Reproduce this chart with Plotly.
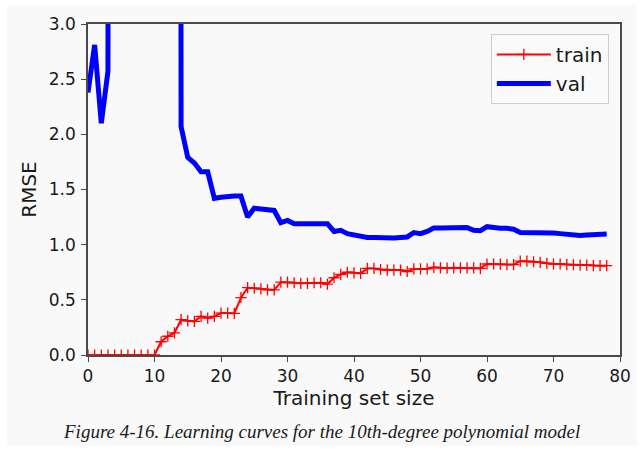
import plotly.graph_objects as go

# Training set sizes (index of each learning-curve step)
sizes = list(range(79))

# Root mean squared error on the training subsets
train_rmse = [
    0, 0, 0, 0, 0, 0, 0, 0, 0, 0,
    0, 0.12, 0.17, 0.20, 0.32, 0.31, 0.305, 0.35, 0.335, 0.35,
    0.38, 0.38, 0.377, 0.52, 0.61, 0.605, 0.60, 0.59, 0.59, 0.66,
    0.66, 0.655, 0.65, 0.65, 0.655, 0.655, 0.643, 0.70, 0.73, 0.75,
    0.745, 0.74, 0.785, 0.785, 0.775, 0.77, 0.77, 0.77, 0.757, 0.78,
    0.78, 0.78, 0.795, 0.79, 0.787, 0.79, 0.79, 0.79, 0.79, 0.785,
    0.825, 0.825, 0.823, 0.82, 0.82, 0.85, 0.85, 0.845, 0.84, 0.83,
    0.825, 0.825, 0.82, 0.818, 0.815, 0.815, 0.81, 0.81, 0.81,
]

# Root mean squared error on the validation set
val_rmse = [
    2.38, 2.81, 2.10, 2.57, 45.0, 120.0, 310.0, 80.0, 150.0, 60.0,
    95.0, 40.0, 25.0, 60.0, 2.07, 1.79, 1.74, 1.66, 1.66, 1.42,
    1.43, 1.44, 1.44, 1.44, 1.25, 1.33, 1.32, 1.32, 1.31, 1.20,
    1.22, 1.19, 1.19, 1.19, 1.18, 1.19, 1.19, 1.12, 1.13, 1.10,
    1.088, 1.07, 1.065, 1.065, 1.06, 1.055, 1.06, 1.065, 1.07, 1.11,
    1.10, 1.12, 1.15, 1.15, 1.15, 1.155, 1.155, 1.155, 1.13, 1.127,
    1.163, 1.15, 1.148, 1.148, 1.14, 1.11, 1.11, 1.115, 1.11, 1.11,
    1.106, 1.10, 1.094, 1.09, 1.083, 1.088, 1.088, 1.088, 1.097,
]

x_ticks = [0, 10, 20, 30, 40, 50, 60, 70, 80]
y_ticks = [0.0, 0.5, 1.0, 1.5, 2.0, 2.5, 3.0]

caption = "Figure 4-16. Learning curves for the 10th-degree polynomial model"

PANEL = "#f9f9f9"
SPINE = "#4a4a4a"
TEXT = "#1a1a1a"
SANS = "DejaVu Sans"

fig = go.Figure()
fig.add_trace(go.Scatter(
    x=sizes, y=train_rmse, mode="lines+markers", name="train",
    line=dict(color="#ff0000", width=2),
    marker=dict(symbol="cross-thin", size=8, line=dict(color="#ff0000", width=1.3)),
))
fig.add_trace(go.Scatter(
    x=sizes, y=val_rmse, mode="lines", name="val",
    line=dict(color="#0000ff", width=5),
))

axis_common = dict(
    showline=True, linecolor=SPINE, linewidth=1.5, mirror=True,
    ticks="outside", ticklen=5, tickwidth=1.2, tickcolor=SPINE,
    showgrid=False, zeroline=False,
    tickfont=dict(family=SANS, size=17, color=TEXT),
)

fig.update_xaxes(
    range=[0, 80], tickvals=x_ticks,
    title=dict(text="Training set size", font=dict(family=SANS, size=20, color=TEXT), standoff=5),
    **axis_common,
)
fig.update_yaxes(
    range=[0, 3.0], tickvals=y_ticks, tickformat=".1f", ticklabelstandoff=2,
    title=dict(text="RMSE", font=dict(family=SANS, size=20, color=TEXT), standoff=7),
    **axis_common,
)

# light page panel behind the figure
fig.add_shape(
    type="rect", xref="paper", yref="paper",
    x0=-0.1523, x1=1.032, y0=-0.275, y1=1.0574,
    fillcolor=PANEL, line=dict(width=0), layer="below",
)

fig.add_annotation(
    text=caption, xref="paper", yref="paper",
    x=0.438, y=-0.2326, xanchor="center", yanchor="middle",
    showarrow=False,
    font=dict(family="Liberation Serif", size=19, color=TEXT, style="italic"),
)

fig.update_layout(
    width=644, height=451,
    margin=dict(l=88, r=24, t=24, b=96),
    paper_bgcolor="white", plot_bgcolor=PANEL,
    showlegend=True,
    legend=dict(
        x=0.979, y=0.970, xanchor="right", yanchor="top",
        bgcolor="rgba(250,250,250,0.9)", bordercolor="#cccccc", borderwidth=1,
        font=dict(family=SANS, size=20, color=TEXT),
        itemwidth=54, tracegroupgap=2,
    ),
)

fig.write_html("out.html")
